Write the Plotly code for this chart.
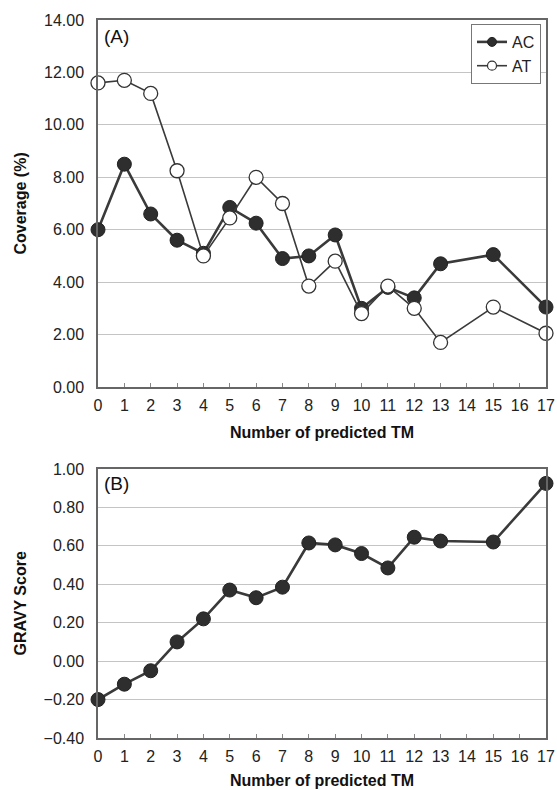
import plotly.graph_objects as go

# ---- data ----
tm = [0, 1, 2, 3, 4, 5, 6, 7, 8, 9, 10, 11, 12, 13, 15, 17]
coverage_ac = [6.0, 8.5, 6.6, 5.6, 5.1, 6.85, 6.25, 4.9, 5.0, 5.8, 3.0, 3.8, 3.4, 4.7, 5.05, 3.05]
coverage_at = [11.6, 11.7, 11.2, 8.25, 5.0, 6.45, 8.0, 7.0, 3.85, 4.8, 2.8, 3.85, 3.0, 1.7, 3.05, 2.05]
gravy = [-0.20, -0.12, -0.05, 0.10, 0.22, 0.37, 0.33, 0.385, 0.615, 0.605, 0.56, 0.485, 0.645, 0.625, 0.62, 0.925]
x_ticks = list(range(0, 18))
cov_ticks = [0, 2, 4, 6, 8, 10, 12, 14]
gravy_ticks = [-0.4, -0.2, 0.0, 0.2, 0.4, 0.6, 0.8, 1.0]

W, H = 557, 790
FONT = "Liberation Sans, Arial, Helvetica, sans-serif"
DARK = "#2e2e2e"
LINE = "#3a3a3a"

x_dom = [98 / W, 546 / W]
top_dom = [1 - 387 / H, 1 - 20 / H]
bot_dom = [1 - 738 / H, 1 - 469 / H]

fig = go.Figure()

# Panel A
fig.add_trace(go.Scatter(
    x=tm, y=coverage_ac, mode="lines+markers", name="AC", showlegend=False,
    line=dict(color=LINE, width=2.6),
    marker=dict(size=14, color=DARK, line=dict(color="#222", width=1)),
    cliponaxis=False, xaxis="x", yaxis="y"))
fig.add_trace(go.Scatter(
    x=tm, y=coverage_at, mode="lines+markers", name="AT", showlegend=False,
    line=dict(color=LINE, width=1.6),
    marker=dict(size=14, color="white", line=dict(color="#333", width=1.3)),
    cliponaxis=False, xaxis="x", yaxis="y"))
# legend entries (small symbols as in reference)
fig.add_trace(go.Scatter(
    x=[None], y=[None], mode="lines+markers", name="AC",
    line=dict(color=LINE, width=2.6),
    marker=dict(size=9, color=DARK, line=dict(color="#222", width=1)),
    xaxis="x", yaxis="y"))
fig.add_trace(go.Scatter(
    x=[None], y=[None], mode="lines+markers", name="AT",
    line=dict(color=LINE, width=1.6),
    marker=dict(size=9, color="white", line=dict(color="#333", width=1.2)),
    xaxis="x", yaxis="y"))

# Panel B
fig.add_trace(go.Scatter(
    x=tm, y=gravy, mode="lines+markers", name="GRAVY", showlegend=False,
    line=dict(color=LINE, width=2.6),
    marker=dict(size=14, color=DARK, line=dict(color="#222", width=1)),
    cliponaxis=False, xaxis="x2", yaxis="y2"))

xcommon = dict(
    range=[0, 17], tickvals=x_ticks, ticktext=[str(v) for v in x_ticks],
    ticks="inside", ticklen=4, tickcolor="#888", tickwidth=1,
    showline=True, linecolor="#666", linewidth=1.5, mirror=True,
    showgrid=False, zeroline=False, domain=x_dom,
    tickfont=dict(family=FONT, size=16, color="#222"),
    ticklabelstandoff=3, automargin=False,
)
ycommon = dict(
    ticks="", showline=True, linecolor="#666", linewidth=1.5, mirror=True,
    showgrid=True, gridcolor="#c4c4c4", gridwidth=1, zeroline=False,
    tickfont=dict(family=FONT, size=16, color="#222"),
    tickformat=".2f", ticklabelstandoff=9, automargin=False,
)

fig.update_layout(
    width=W, height=H,
    margin=dict(l=0, r=0, t=0, b=0),
    paper_bgcolor="white", plot_bgcolor="white",
    xaxis=dict(**xcommon, anchor="y"),
    yaxis=dict(**ycommon, range=[0, 14], tickvals=cov_ticks, domain=top_dom, anchor="x"),
    xaxis2=dict(**xcommon, anchor="y2"),
    yaxis2=dict(**ycommon, range=[-0.4, 1.0], tickvals=gravy_ticks, domain=bot_dom, anchor="x2"),
    legend=dict(
        x=541 / W, y=1 - 24 / H, xanchor="right", yanchor="top",
        bgcolor="white", bordercolor="#777", borderwidth=1,
        font=dict(family=FONT, size=16, color="#222"),
        itemwidth=30, tracegroupgap=0,
    ),
    showlegend=True,
)

ann_font = dict(family=FONT, size=16, color="#111")
fig.add_annotation(text="<b>Number of predicted TM</b>", x=(x_dom[0] + x_dom[1]) / 2, y=1 - 432 / H,
                   xref="paper", yref="paper", showarrow=False, font=ann_font,
                   xanchor="center", yanchor="middle")
fig.add_annotation(text="<b>Number of predicted TM</b>", x=(x_dom[0] + x_dom[1]) / 2, y=1 - 780 / H,
                   xref="paper", yref="paper", showarrow=False, font=ann_font,
                   xanchor="center", yanchor="middle")
fig.add_annotation(text="<b>Coverage (%)</b>", x=20 / W, y=(top_dom[0] + top_dom[1]) / 2,
                   xref="paper", yref="paper", showarrow=False, font=ann_font, textangle=-90,
                   xanchor="center", yanchor="middle")
fig.add_annotation(text="<b>GRAVY Score</b>", x=20 / W, y=(bot_dom[0] + bot_dom[1]) / 2,
                   xref="paper", yref="paper", showarrow=False, font=ann_font, textangle=-90,
                   xanchor="center", yanchor="middle")
fig.add_annotation(text="(A)", x=102 / W, y=1 - 36 / H, xref="paper", yref="paper",
                   showarrow=False, font=dict(family=FONT, size=19, color="#111"),
                   xanchor="left", yanchor="middle")
fig.add_annotation(text="(B)", x=102 / W, y=1 - 483 / H, xref="paper", yref="paper",
                   showarrow=False, font=dict(family=FONT, size=19, color="#111"),
                   xanchor="left", yanchor="middle")

fig.write_html("out.html")
